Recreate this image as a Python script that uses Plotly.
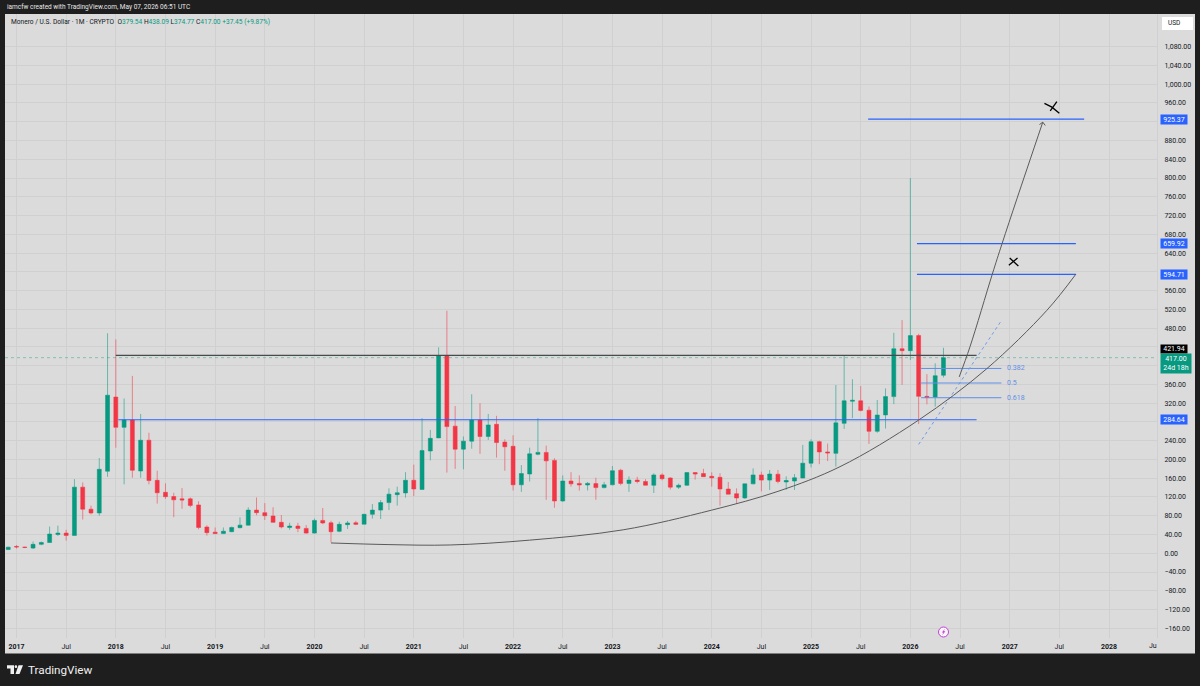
import plotly.graph_objects as go

# Monthly candles, Dec 2016 (index -1) to May 2026 (index 112); index 0 = Jan 2017
start_index = -1
opens = [8,14.5,13,11,19,23,40,43,38,141,
         94,86,175,333,268.5,284,175.4,241,155.5,130,
         121,116,116,103,56,45,42,46,54.6,60,
         92,86.6,79.5,66,55,58,53,43,70,65,
         46.8,61,65,62,83,92,108,125,128.6,155.6,
         136,218,246,421,271,222,239,284,249,275,
         237,228,146,169,211,215,198,111.5,154,149,
         145.6,148.5,140,146,177,149,156,153,145,167,
         160.5,141,145,172,170,164,162,137,127,118,
         148,167,156,168.6,152,154,160.4,192,238,216,
         213,277,324,325,305,260,295,334,436,432,
         464,334.5,333,379.54]
highs = [14,17.6,14,25,25,57,59,50,158,151,
         101.5,203,469,456,330,378,297,257,176,149,
         129,139,119,111,59.6,55,55,57,76.6,98,
         119,107,98,81.6,65,65,60,74,96.5,69.5,
         67.4,69,69,84,105,113.6,138.5,142,173,189,
         288,263,439,517,314,249,339,320,297,293,
         243,251.5,188,225,288,229.5,202.5,166,173,166,
         152,161,152,186,180,164,163,158,170.5,170.5,
         162,148.5,173,173,180,172.6,170.5,152,138.5,148.5,
         181,174,177.6,177.6,164,169,231,243,240,234,
         358.7,421,371,356.5,313,326.7,351.5,470,497,800,
         468,382,405,438.09]
lows = [7,10,11,9,17,22,37,27,38,72,
        83,80,163,225,147,161,161,147,106,116,
        77,95,98,51,37.6,41,41,45,53,59.6,
        81,71,65,53,50,45,42,42,62,23.3,
        45,52,60,62,74,73,92,101.5,118.6,122,
        136,198,246,172,180,179,223,212,241.5,204,
        176,134,131,153,209,114,97,110,142,133.5,
        134,114,138.5,145,145,131,149,145,128.5,155.6,
        136,137,144,157,162.7,142,101.6,126,105,116,
        147,132,135,149,135,135,160,183,190,196.6,
        184.6,265,288,302.5,233,257,266,318,359,412,
        275.5,317.5,312.5,374.77]
closes = [13,13.5,12.5,19,23,41,43,38,141,94,
          86,179,337,268.5,284,177,241,155,129,120.7,
          114,113.6,102,55,44,42,47,55,60,92,
          86.6,80,66,56,58,53,43,70,64.6,46,
          61.7,64.6,61.7,83,92,108,126,129,155.6,137,
          219,245,421,270,222,239,284,249,273.5,236,
          227,146,170,212,215,197,111.5,154,148,145.6,
          149,140,146,176,149,156,153,145,167,159,
          141,145,172,169,163.4,161,137,126,118,148,
          167,156,169,153,155,161,192,238,216,214,
          278,325,326,304.6,260,294.7,334,436,432,464,
          334.5,332,378.5,417]
assert len(opens)==len(highs)==len(lows)==len(closes)==114

# Horizontal levels: (price, first index, last index)
level_blue_top = (925.37, 102.9, 129.0)
level_blue_659 = (659.92, 108.8, 128.0)
level_blue_594 = (594.71, 108.8, 128.0)
level_blue_284 = (284.64, 12.3, 116.0)
level_black_421 = (421.94, 12.0, 116.0)
current_price = 417.00

fib_ratios = ["0.382", "0.5", "0.618"]
fib_prices = [394, 363, 331.6]
fib_start, fib_end = 109.3, 119.0

# Hand-drawn curve and arrow (index, price)
curve_x = [38,45,52.4,62,73.3,84,92,99.5,109,117.2,124.5,128]
curve_y = [22,18.5,17.7,28,50,92,132,184.6,284,393,518,595]
arrow_x = [113.9,115.2,117.9,119.06,120.9,124]
arrow_y = [376,440,595,659,757,919]
arrow_head_x = [123.6,124,124.3]
arrow_head_y = [914,919,912]
dash_x = [109,119]
dash_y = [232,496]
cross_a = ([124.2,125.1,126.0],[959,951,938])
cross_b = ([124.9,125.7],[943,963])
cross_c = ([120.0,121.05],[629.5,612.4])
cross_d = ([119.9,120.95],[614,629.5])

# Axis labels (blank where a price tag covers the label)
y_ticks = list(range(-160,1081,40))
y_labels = ["−160.00","−120.00","−80.00","−40.00","0.00","40.00","80.00","120.00","160.00","200.00","240.00","",
            "320.00","360.00","","","480.00","520.00","560.00","","640.00","680.00","720.00","760.00",
            "800.00","840.00","880.00","","960.00","1,000.00","1,040.00","1,080.00"]
x_ticks = list(range(0,133,6))
x_labels = []
for n, t in enumerate(x_ticks):
    x_labels.append(f"<b>{2017+t//12}</b>" if t%12==0 else "Jul")
month_index = [start_index+k for k in range(len(opens))]

FONT = "Roboto"
DARK = "#1e1e1e"
PANEL = "#dbdbdb"
GRID = "#d0d0d0"
BLUE = "#2962ff"
FIB = "#5f8fe8"
GREEN = "#089981"
RED = "#f23645"
CURVE = "#5a5a5a"
PURPLE = "#c440dc"

def X(px): return (px-5)/1152
def Y(py): return (638-py)/624

fig = go.Figure()
fig.add_trace(go.Candlestick(x=month_index, open=opens, high=highs, low=lows, close=closes,
    increasing=dict(line=dict(color="rgba(8,153,129,0.55)", width=1), fillcolor=GREEN),
    decreasing=dict(line=dict(color="rgba(242,54,69,0.55)", width=1), fillcolor=RED),
    showlegend=False, hoverinfo="skip", whiskerwidth=0))

def line(xs, ys, color, width=1, dash=None, shape="linear"):
    fig.add_trace(go.Scatter(x=xs, y=ys, mode="lines", showlegend=False, hoverinfo="skip",
        line=dict(color=color, width=width, dash=dash, shape=shape)))

line([-1.39,137.8],[current_price,current_price],"rgba(8,153,129,0.4)",1,"dot")
for lv in (level_blue_top, level_blue_659, level_blue_594, level_blue_284):
    line([lv[1],lv[2]],[lv[0],lv[0]],BLUE,1.2)
line([level_black_421[1],level_black_421[2]],[level_black_421[0]]*2,"#4a4a4a",1.2)
for p in fib_prices:
    line([fib_start,fib_end],[p,p],FIB,1)
line(dash_x,dash_y,"#6f9be8",1,"dot")
line(curve_x,curve_y,CURVE,1,shape="spline")
line(arrow_x,arrow_y,CURVE,1,shape="spline")
line(arrow_head_x,arrow_head_y,CURVE,1)
for c in (cross_a,cross_b,cross_c,cross_d):
    line(c[0],c[1],"#000000",1.3)

annotations = []
def note(text, x, y, xref="paper", yref="paper", **kw):
    d = dict(text=text, x=x, y=y, xref=xref, yref=yref, showarrow=False, xanchor="left", yanchor="middle",
             font=dict(family=FONT, size=7, color="#131722"))
    d.update(kw)
    annotations.append(d)

note("iamcfw created with TradingView.com, May 07, 2026 06:51 UTC", X(5), Y(7), font=dict(family=FONT,size=6.5,color="#e8e8e8"))
def g(s): return f'<span style="color:{GREEN}">{s}</span>'
note("Monero / U.S. Dollar · 1M · CRYPTO  O"+g("379.54")+" H"+g("438.09")+" L"+g("374.77")+" C"+g("417.00")+" "+g("+37.45 (+9.87%)"),
     X(9), Y(22), font=dict(family=FONT,size=6.6,color="#131722"))
note("TradingView", X(26), Y(670), font=dict(family=FONT,size=11.7,color="#f0f0f0"))
for lab,p in zip(fib_ratios,fib_prices):
    note(lab, X(1005), p, yref="y", font=dict(family=FONT,size=7,color=FIB))
for price,bg in ((925.37,BLUE),(659.92,BLUE),(594.71,BLUE),(284.64,BLUE)):
    note(f"{price:.2f}", X(1160), price, yref="y", bgcolor=bg, borderpad=0, width=26, height=9, align="center",
         font=dict(family=FONT,size=7,color="#ffffff"))
note("421.94", X(1160), Y(349), bgcolor="#000000", borderpad=0, width=26, height=8, align="center",
     font=dict(family=FONT,size=7,color="#ffffff"))
note(f"{current_price:.2f}<br>24d 18h", X(1160), Y(353.2), yanchor="top", align="center", bgcolor=GREEN, borderpad=1,
     width=28, font=dict(family=FONT,size=7,color="#ffffff"))
note("USD", X(1166), Y(23.5), font=dict(family=FONT,size=6.5,color="#131722"))
note("Ju", X(1159), Y(645.5), xanchor="right", font=dict(family=FONT,size=7,color="#131722"))

shapes = [
    dict(type="rect", xref="paper", yref="paper", x0=X(5), x1=X(1195), y0=Y(653.5), y1=Y(14),
         fillcolor=PANEL, line=dict(width=0), layer="below"),
    dict(type="rect", xref="paper", yref="paper", x0=X(1162), x1=X(1193), y0=Y(30), y1=Y(17),
         fillcolor="#ffffff", line=dict(width=0), layer="below"),
    dict(type="circle", xref="paper", yref="paper", x0=X(938.5), x1=X(948.5), y0=Y(637), y1=Y(627),
         fillcolor="#f6f6f6", line=dict(color=PURPLE, width=1)),
    dict(type="path", xref="paper", yref="paper", fillcolor=PURPLE, line=dict(width=0),
         path=f"M{X(945)},{Y(628.7)} L{X(941.8)},{Y(632.5)} L{X(943.4)},{Y(632.5)} L{X(942.2)},{Y(635.3)} L{X(945.4)},{Y(631.3)} L{X(943.8)},{Y(631.3)} Z"),
    dict(type="path", xref="paper", yref="paper", fillcolor="#f0f0f0", line=dict(width=0),
         path=f"M{X(7)},{Y(665.2)} L{X(14)},{Y(665.2)} L{X(14)},{Y(674)} L{X(10.5)},{Y(674)} L{X(10.5)},{Y(668.5)} L{X(7)},{Y(668.5)} Z"),
    dict(type="path", xref="paper", yref="paper", fillcolor="#f0f0f0", line=dict(width=0),
         path=f"M{X(18.5)},{Y(665.2)} L{X(23)},{Y(665.2)} L{X(19.5)},{Y(674)} L{X(15.5)},{Y(674)} Z"),
    dict(type="circle", xref="paper", yref="paper", fillcolor="#f0f0f0", line=dict(width=0),
         x0=X(14.6), x1=X(17.2), y0=Y(668), y1=Y(665.3)),
]

fig.update_layout(
    width=1200, height=686, autosize=False,
    paper_bgcolor=DARK, plot_bgcolor=PANEL,
    margin=dict(l=5, r=43, t=14, b=48, pad=0),
    boxgap=0.32,
    font=dict(family=FONT, size=7, color="#131722"),
    annotations=annotations, shapes=shapes,
    xaxis=dict(range=[-1.39,137.8], tickmode="array", tickvals=x_ticks, ticktext=x_labels,
               showgrid=True, gridcolor=GRID, gridwidth=1, zeroline=False, showline=False,
               ticks="", rangeslider=dict(visible=False), tickfont=dict(family=FONT,size=7,color="#131722"),
               ticklabelstandoff=3, tickangle=0),
    yaxis=dict(range=[-180.6,1149.6], side="right", tickmode="array", tickvals=y_ticks, ticktext=y_labels,
               showgrid=True, gridcolor=GRID, gridwidth=1, zeroline=False, showline=True, linecolor=GRID,
               ticks="", tickfont=dict(family=FONT,size=7,color="#131722"), ticklabelstandoff=5),
)
fig.write_html("out.html", config={"displayModeBar": False},
               post_script="document.body.style.margin='0';document.body.style.background='#1e1e1e';")
